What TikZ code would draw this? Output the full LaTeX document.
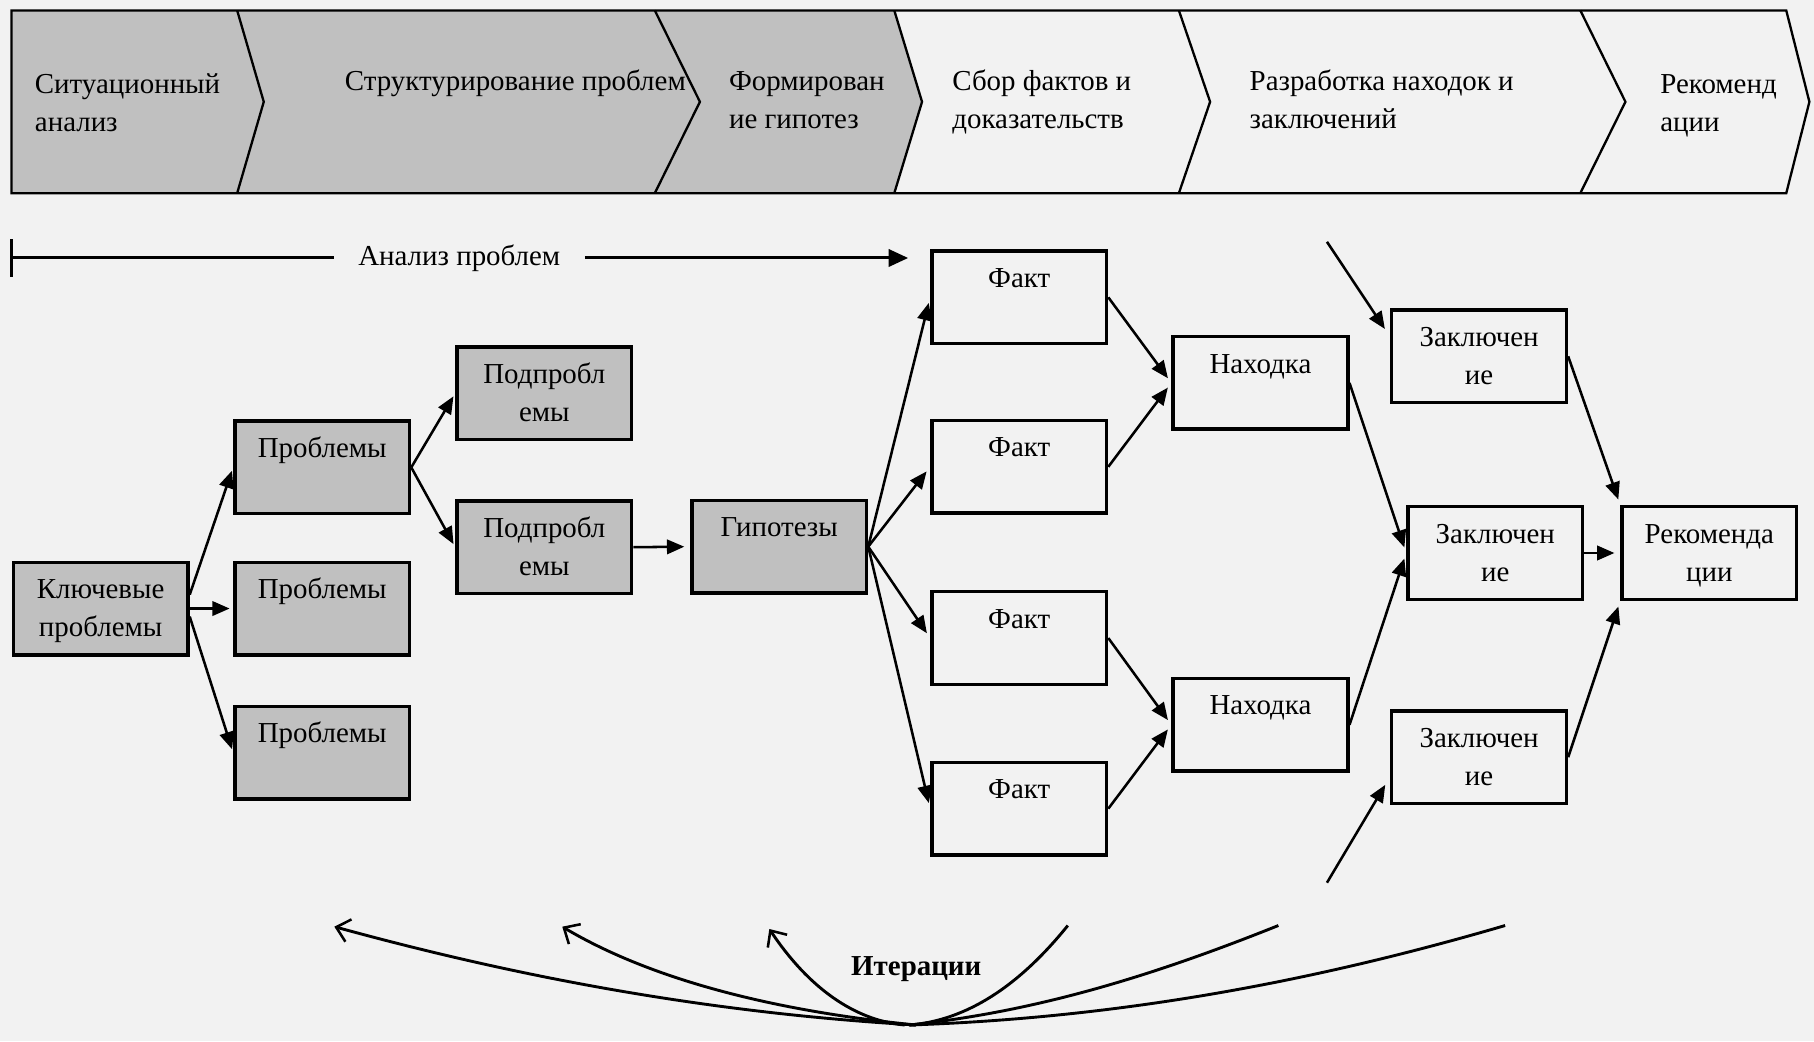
\documentclass[tikz,border=0pt]{standalone}
\usepackage{fontspec}
\setmainfont{Liberation Serif}
\usetikzlibrary{arrows.meta}
\definecolor{bg}{HTML}{F2F2F2}
\definecolor{boxgray}{HTML}{C0C0C0}
\newcommand{\oneline}[2]{\node[anchor=base] (#1-t) at ([yshift=-33pt]#1.north) {#2};}
\newcommand{\twoline}[3]{\node[anchor=base] (#1-t) at ([yshift=-33pt]#1.north) {#2};
  \node[anchor=base] (#1-u) at ([yshift=-66pt]#1.north) {#3};}
\begin{document}
\begin{tikzpicture}[x=1pt,y=-1pt,
  every node/.style={font=\fontsize{25}{33}\selectfont, inner sep=0pt},
  bandtxt/.style={anchor=base west},
  basebox/.style={draw, line width=3pt, minimum width=151pt, minimum height=80pt, inner sep=0pt},
  gbox/.style={basebox, fill=boxgray},
  wbox/.style={basebox, fill=bg},
  con/.style={line width=2.2pt, -{Triangle[length=15pt,width=12.5pt]}, shorten >=5pt},
  iter/.style={line width=2.5pt},
  iterarr/.style={iter, -{Straight Barb[length=11pt,width=20pt,line width=2.2pt]}}]
\useasboundingbox (0,0) rectangle (1568,900);
\fill[bg] (0,0) rectangle (1568,900);
% ---------- top band ----------
\fill[boxgray] (10,9) -- (773,9) -- (797,88) -- (773,167) -- (10,167) -- cycle;
\draw[line width=2pt, line join=miter] (10,9) -- (1544,9) -- (1564,88) -- (1544,167) -- (10,167) -- cycle;
\draw[line width=2pt] (205,9) -- (228,88) -- (205,167);
\draw[line width=2pt] (566,9) -- (605,88) -- (566,167);
\draw[line width=2pt] (773,9) -- (797,88) -- (773,167);
\draw[line width=2pt] (1019,9) -- (1046,88) -- (1019,167);
\draw[line width=2pt] (1366,9) -- (1405,88) -- (1366,167);
\node[bandtxt] (b1a) at (30,81) {Ситуационный};
\node[bandtxt] (b1b) at (30,114) {анализ};
\node[bandtxt] (b2a) at (298,78) {Структурирование проблем};
\node[bandtxt] (b3a) at (630,78) {Формирован};
\node[bandtxt] (b3b) at (630,111) {ие гипотез};
\node[bandtxt] (b4a) at (823,78) {Сбор фактов и};
\node[bandtxt] (b4b) at (823,111) {доказательств};
\node[bandtxt] (b5a) at (1080,78) {Разработка находок и};
\node[bandtxt] (b5b) at (1080,111) {заключений};
\node[bandtxt] (b6a) at (1435,81) {Рекоменд};
\node[bandtxt] (b6b) at (1435,114) {ации};
% ---------- analysis arrow ----------
\coordinate (barc) at (10,223);
\coordinate (anend) at (785,223);
\node[inner xsep=21pt] (an) at (397,223) {Анализ проблем};
\draw[line width=2pt] (10,207) -- (10,239);
\draw[line width=2.6pt] (barc) -- (an.west);
\draw[line width=2.6pt, -{Triangle[length=17pt,width=15pt]}] (an.east) -- (anend);
% ---------- boxes ----------
\node[gbox] (kp) at (87,526) {};
\node[gbox] (p1) at (278.5,404) {};
\node[gbox] (p2) at (278.5,526) {};
\node[gbox] (p3) at (278.5,650.5) {};
\node[gbox] (sp1) at (470.5,340) {};
\node[gbox] (sp2) at (470.5,473) {};
\node[gbox] (g) at (673.5,472.5) {};
\node[wbox] (f1) at (881,257) {};
\node[wbox] (f2) at (881,403.5) {};
\node[wbox] (f3) at (881,551.5) {};
\node[wbox] (f4) at (881,699) {};
\node[wbox] (n1) at (1089.5,331) {};
\node[wbox] (n2) at (1089.5,626.5) {};
\node[wbox] (z1) at (1278.5,308) {};
\node[wbox] (z2) at (1292.5,478) {};
\node[wbox] (z3) at (1278.5,654.5) {};
\node[wbox] (r) at (1477.5,478) {};
\twoline{kp}{Ключевые}{проблемы}
\oneline{p1}{Проблемы}
\oneline{p2}{Проблемы}
\oneline{p3}{Проблемы}
\twoline{sp1}{Подпробл}{емы}
\twoline{sp2}{Подпробл}{емы}
\oneline{g}{Гипотезы}
\oneline{f1}{Факт}
\oneline{f2}{Факт}
\oneline{f3}{Факт}
\oneline{f4}{Факт}
\oneline{n1}{Находка}
\oneline{n2}{Находка}
\twoline{z1}{Заключен}{ие}
\twoline{z2}{Заключен}{ие}
\twoline{z3}{Заключен}{ие}
\twoline{r}{Рекоменда}{ции}
% ---------- connectors ----------
\draw[con, shorten >=3pt] ([yshift=12pt]kp.east) -- (p1.west);
\draw[con, shorten >=3pt] (kp.east) -- (p2.west);
\draw[con, shorten >=3pt] ([yshift=-7pt]kp.east) -- (p3.west);
\draw[con, shorten >=3pt] (p1.east) -- (sp1.west);
\draw[con, shorten >=3pt] (p1.east) -- (sp2.west);
\draw[con] (sp2.east) -- (g.west);
\draw[con] (g.east) -- (f1.west);
\draw[con] (g.east) -- (f2.west);
\draw[con] (g.east) -- (f3.west);
\draw[con] (g.east) -- (f4.west);
\draw[con] (f1.east) -- (n1.west);
\draw[con] (f2.east) -- (n1.west);
\draw[con] (f3.east) -- (n2.west);
\draw[con] (f4.east) -- (n2.west);
\draw[con] (n1.east) -- (z2.west);
\draw[con] (n2.east) -- (z2.west);
\coordinate (zin1) at (1147,209);
\coordinate (zin3) at (1147,763);
\draw[con, shorten >=8pt] (zin1) -- ([yshift=17pt]z1.west);
\draw[con, shorten >=8pt] (zin3) -- ([yshift=-17pt]z3.west);
\draw[con] (z1.east) -- (r.north west);
\draw[con] (z2.east) -- (r.west);
\draw[con] (z3.east) -- (r.south west);
% ---------- iterations ----------
\coordinate (itL) at (792,886);
\coordinate (itM) at (782,886);
\coordinate (itR) at (786,886);
\coordinate (e1) at (289,801);
\coordinate (e2) at (486,801);
\coordinate (e3) at (665,803);
\coordinate (e4) at (923,800);
\coordinate (e5) at (1105,800);
\coordinate (e6) at (1301,800);
\draw[iterarr] (itL) .. controls (620,876) and (456.3,847) .. (e1);
\draw[iterarr] (itL) .. controls (650,872) and (552,840.3) .. (e2);
\draw[iterarr] (itM) .. controls (738,882) and (698.3,853) .. (e3);
\draw[iter] (itR) .. controls (836,882) and (881,852) .. (e4);
\draw[iter] (itR) .. controls (900,874) and (1001.7,841.3) .. (e5);
\draw[iter] (itR) .. controls (963.3,880) and (1130.3,850) .. (e6);
\node[anchor=base, font=\fontsize{25}{33}\selectfont\bfseries] (itxt) at (792,843) {Итерации};
\end{tikzpicture}
\end{document}
